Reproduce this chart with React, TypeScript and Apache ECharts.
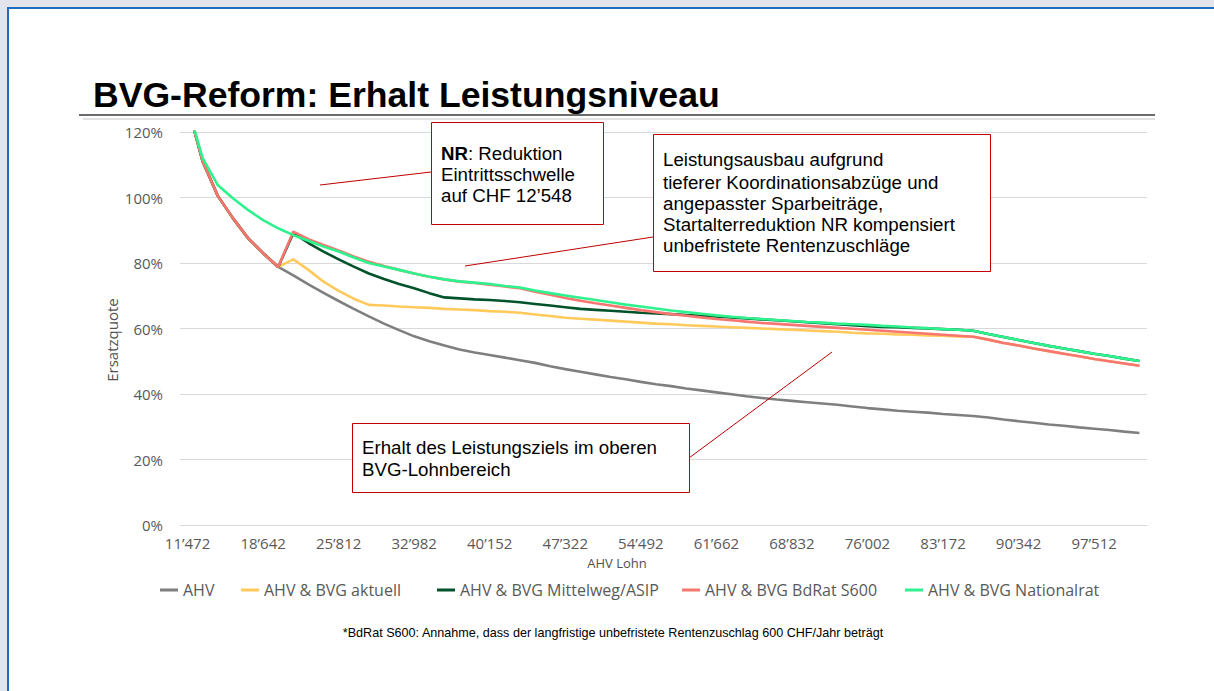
import React, { useEffect, useRef } from "react";
import * as echarts from "echarts";

const categories = [
  "11’472", "12’906", "14’340", "15’774", "17’208", "18’642", "20’076", "21’510", "22’944", "24’378",
  "25’812", "27’246", "28’680", "30’114", "31’548", "32’982", "34’416", "35’850", "37’284", "38’718",
  "40’152", "41’586", "43’020", "44’454", "45’888", "47’322", "48’756", "50’190", "51’624", "53’058",
  "54’492", "55’926", "57’360", "58’794", "60’228", "61’662", "63’096", "64’530", "65’964", "67’398",
  "68’832", "70’266", "71’700", "73’134", "74’568", "76’002", "77’436", "78’870", "80’304", "81’738",
  "83’172", "84’606", "86’040", "87’474", "88’908", "90’342", "91’776", "93’210", "94’644", "96’078",
  "97’512", "98’946", "100’380", "101’814",
];

const ahv = [
  128, 111, 100.5, 93.7, 87.6, 83.0, 78.8, 76.2, 73.5, 70.9,
  68.4, 66.0, 63.7, 61.5, 59.5, 57.6, 56.1, 54.8, 53.6, 52.7,
  51.9, 51.1, 50.3, 49.5, 48.5, 47.6, 46.8, 46.0, 45.2, 44.5,
  43.7, 43.0, 42.4, 41.7, 41.1, 40.5, 39.9, 39.3, 38.8, 38.3,
  37.9, 37.5, 37.1, 36.7, 36.2, 35.7, 35.3, 34.9, 34.6, 34.3,
  33.9, 33.6, 33.3, 32.8, 32.2, 31.7, 31.2, 30.7, 30.3, 29.8,
  29.4, 29.0, 28.5, 28.1,
];

const bvgAktuell = [
  128, 111, 100.5, 93.7, 87.6, 83.0, 78.8, 81.1, 77.9, 74.3,
  71.5, 69.1, 67.2, 67.0, 66.7, 66.5, 66.3, 66.0, 65.8, 65.6,
  65.3, 65.1, 64.8, 64.3, 63.8, 63.3, 63.0, 62.7, 62.4, 62.1,
  61.8, 61.5, 61.3, 61.0, 60.8, 60.6, 60.4, 60.2, 60.0, 59.8,
  59.6, 59.4, 59.2, 59.0, 58.7, 58.5, 58.4, 58.2, 58.1, 57.9,
  57.8, 57.6, 57.5, 56.6, 55.6, 54.8, 53.9, 53.1, 52.3, 51.5,
  50.7, 50.0, 49.3, 48.6,
];

const bvgMittelweg = [
  128, 111, 100.5, 93.7, 87.6, 83.0, 78.8, 89.1, 86.1, 83.5,
  81.1, 78.9, 76.8, 75.1, 73.6, 72.3, 70.8, 69.5, 69.2, 68.9,
  68.7, 68.4, 68.0, 67.5, 67.0, 66.5, 66.0, 65.7, 65.4, 65.1,
  64.8, 64.6, 64.4, 64.1, 63.9, 63.7, 63.4, 63.1, 62.8, 62.5,
  62.2, 61.9, 61.6, 61.3, 61.0, 60.7, 60.5, 60.4, 60.2, 60.0,
  59.8, 59.6, 59.3, 58.3, 57.4, 56.5, 55.6, 54.7, 53.9, 53.1,
  52.3, 51.6, 50.8, 50.1,
];

const bvgBdRat = [
  128, 111, 100.5, 93.7, 87.6, 83.0, 78.8, 89.6, 87.3, 85.5,
  83.8, 82.0, 80.4, 79.1, 77.9, 76.8, 75.8, 75.0, 74.3, 73.9,
  73.4, 72.8, 72.3, 71.2, 70.3, 69.3, 68.5, 67.7, 67.0, 66.3,
  65.6, 65.0, 64.4, 63.9, 63.4, 62.9, 62.5, 62.1, 61.7, 61.4,
  61.1, 60.8, 60.5, 60.2, 59.9, 59.6, 59.3, 59.0, 58.7, 58.4,
  58.1, 57.8, 57.5, 56.6, 55.6, 54.8, 53.9, 53.1, 52.3, 51.5,
  50.7, 50.0, 49.3, 48.6,
];

const bvgNationalrat = [
  128, 112, 103.8, 99.8, 96.2, 93.1, 90.6, 88.5, 86.8, 85.0,
  83.5, 81.7, 80.0, 78.9, 77.9, 76.8, 75.8, 75.0, 74.4, 74.0,
  73.6, 73.0, 72.5, 71.6, 70.8, 70.1, 69.4, 68.7, 68.0, 67.3,
  66.7, 66.1, 65.5, 65.0, 64.5, 64.0, 63.6, 63.2, 62.9, 62.6,
  62.3, 62.0, 61.8, 61.5, 61.3, 61.1, 60.8, 60.6, 60.3, 60.1,
  59.8, 59.6, 59.3, 58.3, 57.4, 56.5, 55.6, 54.7, 53.9, 53.1,
  52.3, 51.6, 50.8, 50.1,
];

const seriesNames = [
  "AHV",
  "AHV & BVG aktuell",
  "AHV & BVG Mittelweg/ASIP",
  "AHV & BVG BdRat S600",
  "AHV & BVG Nationalrat",
];
const seriesColors = ["#7f7f7f", "#ffc95c", "#00522a", "#f7766f", "#2ef28e"];
const seriesZ = [2, 2, 3, 4, 5];
const legendLefts = [160, 241, 437, 682, 905];

export default function App() {
  const ref = useRef<HTMLDivElement>(null);

  useEffect(() => {
    if (!ref.current) return;
    const chart = echarts.init(ref.current, null, { renderer: "svg" });
    const dataSets = [ahv, bvgAktuell, bvgMittelweg, bvgBdRat, bvgNationalrat];
    const annFont = "Liberation Sans, Arial, sans-serif";
    const axFont = "Open Sans, sans-serif";
    const red = "#c00000";
    const annSize = 18.7;

    chart.setOption({
      animation: false,
      grid: { left: 180, right: 67, top: 132, bottom: 166, containLabel: false },
      legend: seriesNames.map((n, i) => ({
        data: [n],
        left: legendLefts[i],
        top: 582,
        icon: "rect",
        itemWidth: 18,
        itemHeight: 3,
        padding: 0,
        textStyle: { color: "#595959", fontSize: 16, fontFamily: axFont },
        selectedMode: false,
      })),
      xAxis: {
        type: "category",
        data: categories,
        boundaryGap: true,
        axisLine: { show: true, lineStyle: { color: "#d9d9d9", width: 1 } },
        axisTick: { show: false },
        axisLabel: {
          interval: 4,
          margin: 10,
          color: "#595959",
          fontSize: 15,
          fontFamily: axFont,
        },
        splitLine: { show: false },
      },
      yAxis: {
        type: "value",
        min: 0,
        max: 120,
        interval: 20,
        axisLine: { show: false },
        axisTick: { show: false },
        axisLabel: {
          formatter: "{value}%",
          margin: 17,
          color: "#595959",
          fontSize: 15,
          fontFamily: axFont,
        },
        splitLine: { lineStyle: { color: "#d9d9d9", width: 1 } },
      },
      series: dataSets.map((d, i) => ({
        name: seriesNames[i],
        type: "line",
        data: d,
        symbol: "none",
        showSymbol: false,
        clip: true,
        z: seriesZ[i],
        color: seriesColors[i],
        lineStyle: { color: seriesColors[i], width: 2.6 },
      })),
      graphic: [
        { type: "line", z: 100, shape: { x1: 79, y1: 115, x2: 1155, y2: 115 }, style: { stroke: "#6b6b6b", lineWidth: 2 } },
        { type: "line", z: 100, shape: { x1: 83, y1: 119, x2: 1155, y2: 119 }, style: { stroke: "#c4c4c4", lineWidth: 1 } },
        {
          type: "text", z: 100, x: 93, y: 95,
          style: { text: "BVG-Reform: Erhalt Leistungsniveau", font: "bold 35.6px Liberation Sans, Arial, sans-serif", fill: "#000", align: "left", verticalAlign: "middle" },
        },
        {
          type: "text", z: 100, x: 112, y: 340, rotation: Math.PI / 2,
          style: { text: "Ersatzquote", font: "15px Open Sans, sans-serif", fill: "#505050", align: "center", verticalAlign: "middle" },
        },
        {
          type: "text", z: 100, x: 617, y: 563,
          style: { text: "AHV Lohn", font: "13px Open Sans, sans-serif", fill: "#505050", align: "center", verticalAlign: "middle" },
        },
        // pointer lines
        { type: "line", z: 100, shape: { x1: 320, y1: 185, x2: 431, y2: 172 }, style: { stroke: red, lineWidth: 1 } },
        { type: "line", z: 100, shape: { x1: 465, y1: 266, x2: 653, y2: 237 }, style: { stroke: red, lineWidth: 1 } },
        { type: "line", z: 100, shape: { x1: 689, y1: 458, x2: 832, y2: 352 }, style: { stroke: red, lineWidth: 1 } },
        // box 1
        { type: "rect", z: 100, shape: { x: 431.5, y: 122.5, width: 172, height: 102 }, style: { fill: "#fff", stroke: red, lineWidth: 1 } },
        {
          type: "text", z: 101, x: 441, y: 142.5,
          style: {
            text: "{b|NR}: Reduktion\nEintrittsschwelle\nauf CHF 12’548",
            font: annSize + "px " + annFont, fill: "#000", align: "left", verticalAlign: "top", lineHeight: 21,
            rich: { b: { fontWeight: "bold", fontSize: annSize, fontFamily: annFont, lineHeight: 21, fill: "#000" } },
          },
        },
        // box 2
        { type: "rect", z: 100, shape: { x: 653.5, y: 134.5, width: 337, height: 137 }, style: { fill: "#fff", stroke: red, lineWidth: 1 } },
        {
          type: "text", z: 101, x: 663, y: 148.5,
          style: { text: "Leistungsausbau aufgrund", font: annSize + "px " + annFont, fill: "#000", align: "left", verticalAlign: "top", lineHeight: 21 },
        },
        {
          type: "text", z: 101, x: 663, y: 172.5,
          style: {
            text: "tieferer Koordinationsabzüge und\nangepasster Sparbeiträge,\nStartalterreduktion NR kompensiert\nunbefristete Rentenzuschläge",
            font: annSize + "px " + annFont, fill: "#000", align: "left", verticalAlign: "top", lineHeight: 20.8,
          },
        },
        // box 3
        { type: "rect", z: 100, shape: { x: 352.5, y: 423.5, width: 337, height: 69 }, style: { fill: "#fff", stroke: red, lineWidth: 1 } },
        {
          type: "text", z: 101, x: 362, y: 436.5,
          style: {
            text: "Erhalt des Leistungsziels im oberen\nBVG-Lohnbereich",
            font: annSize + "px " + annFont, fill: "#000", align: "left", verticalAlign: "top", lineHeight: 22,
          },
        },
        // footnote
        {
          type: "text", z: 100, x: 613, y: 633,
          style: {
            text: "*BdRat S600: Annahme, dass der langfristige unbefristete Rentenzuschlag 600 CHF/Jahr beträgt",
            font: "12.6px Liberation Sans, Arial, sans-serif", fill: "#000", align: "center", verticalAlign: "middle",
          },
        },
      ],
    });

    return () => chart.dispose();
  }, []);

  return (
    <div style={{ position: "fixed", left: 0, top: 0, width: 1214, height: 691, background: "#e4e4ec", overflow: "hidden" }}>
      <div
        style={{
          position: "absolute",
          left: 7,
          top: 7,
          width: 1230,
          height: 700,
          background: "#fff",
          borderLeft: "2px solid #1c6fc0",
          borderTop: "2px solid #1c6fc0",
        }}
      />
      <div ref={ref} style={{ position: "absolute", left: 0, top: 0, width: 1214, height: 691 }} />
    </div>
  );
}
